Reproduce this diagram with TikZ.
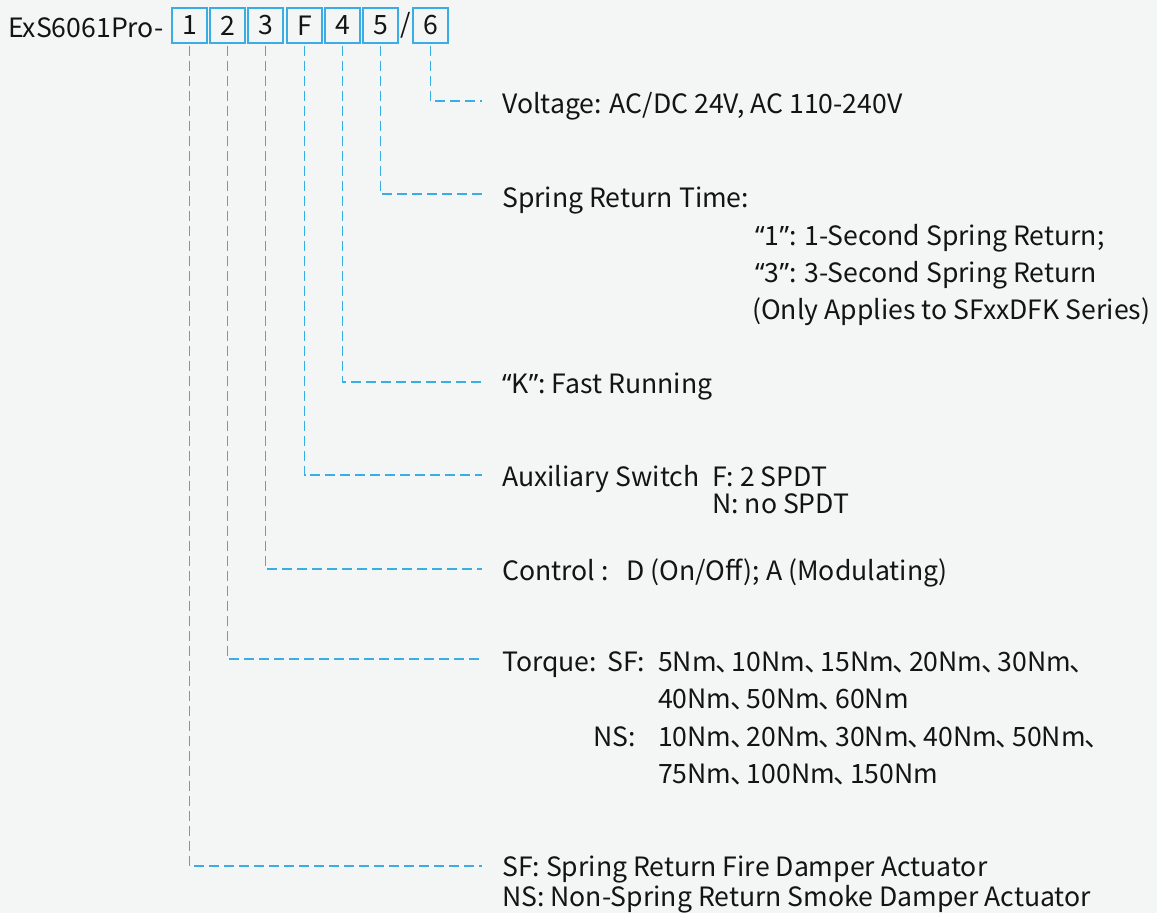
\documentclass[tikz,border=0pt]{standalone}
\usepackage{fontspec}
\setmainfont{Noto Sans CJK SC}
\newfontfamily\latinq{Noto Sans}
\newcommand\myLq{{\latinq “}}
\newcommand\myRq{{\latinq ”}}
\newcommand\dun{\kern-0.05em、\kern-0.38em}
\definecolor{lineblue}{RGB}{58,174,228}
\definecolor{bg}{RGB}{244,246,246}
\definecolor{txt}{RGB}{20,20,20}
\begin{document}
\begin{tikzpicture}[x=1pt,y=-1pt,
  every node/.style={font=\fontsize{26.6}{37}\selectfont, text=txt},
  codebox/.style={draw=lineblue, line width=1.3pt, minimum width=35pt, minimum height=35pt, inner sep=0pt},
  lead/.style={draw=lineblue, line width=1.5pt, dash pattern=on 10pt off 5pt},
  lbl/.style={anchor=base west, inner sep=0pt}]
\fill[bg] (0,0) rectangle (1157,913);
\useasboundingbox (0,0) rectangle (1157,913);
% header
\node[lbl] (hdr) at (8,37) {ExS6061Pro-};
\node[codebox] (b1) at (189.5,25.5) {1};
\node[codebox] (b2) at (227.5,25.5) {2};
\node[codebox] (b3) at (265.5,25.5) {3};
\node[codebox] (bF) at (304.5,25.5) {F};
\node[codebox] (b4) at (342.5,25.5) {4};
\node[codebox] (b5) at (380.5,25.5) {5};
\node[inner sep=0pt] (sl) at (405.5,25.5) {/};
\node[codebox] (b6) at (430.5,25.5) {6};
% end coordinates
\coordinate (e6) at (482,101);
\coordinate (e5) at (482,194);
\coordinate (e4) at (482,382);
\coordinate (eF) at (482,475);
\coordinate (e3) at (482,569);
\coordinate (e2) at (482,659);
\coordinate (e1) at (482,866);
\foreach \k in {1,2,3,F,4,5,6}{
  \draw[lead] ([yshift=-2pt]b\k.south) |- (e\k);
}
% labels
\node[lbl] (t6) at (502,113) {Voltage: AC/DC 24V, AC 110-240V};
\node[lbl] (t5) at (502,207) {Spring Return Time:};
\node[lbl] (t5a) at (755,245) {\myLq1\myRq: 1-Second Spring Return;};
\node[lbl] (t5b) at (755,282) {\myLq3\myRq: 3-Second Spring Return};
\node[lbl] (t5c) at (752,319) {(Only Applies to SFxxDFK Series)};
\node[lbl] (t4) at (502,393) {\myLq K\myRq: Fast Running};
\node[lbl] (tF) at (502,486) {Auxiliary Switch};
\node[lbl] (tFa) at (712,486) {F: 2 SPDT};
\node[lbl] (tFb) at (712,513) {N: no SPDT};
\node[lbl] (t3) at (502,580) {Control :};
\node[lbl] (t3a) at (626,580) {D (On/Off); A (Modulating)};
\node[lbl] (t2) at (502,671) {Torque:};
\node[lbl] (t2s) at (607,671) {SF:};
\node[lbl] (t2a) at (658,671) {5Nm\dun 10Nm\dun 15Nm\dun 20Nm\dun 30Nm\dun};
\node[lbl] (t2b) at (658,708) {40Nm\dun 50Nm\dun 60Nm};
\node[lbl] (t2n) at (593,746) {NS:};
\node[lbl] (t2c) at (658,746) {10Nm\dun 20Nm\dun 30Nm\dun 40Nm\dun 50Nm\dun};
\node[lbl] (t2d) at (658,783) {75Nm\dun 100Nm\dun 150Nm};
\node[lbl] (t1a) at (502,876) {SF: Spring Return Fire Damper Actuator};
\node[lbl] (t1b) at (502,906) {NS: Non-Spring Return Smoke Damper Actuator};
\end{tikzpicture}
\end{document}
